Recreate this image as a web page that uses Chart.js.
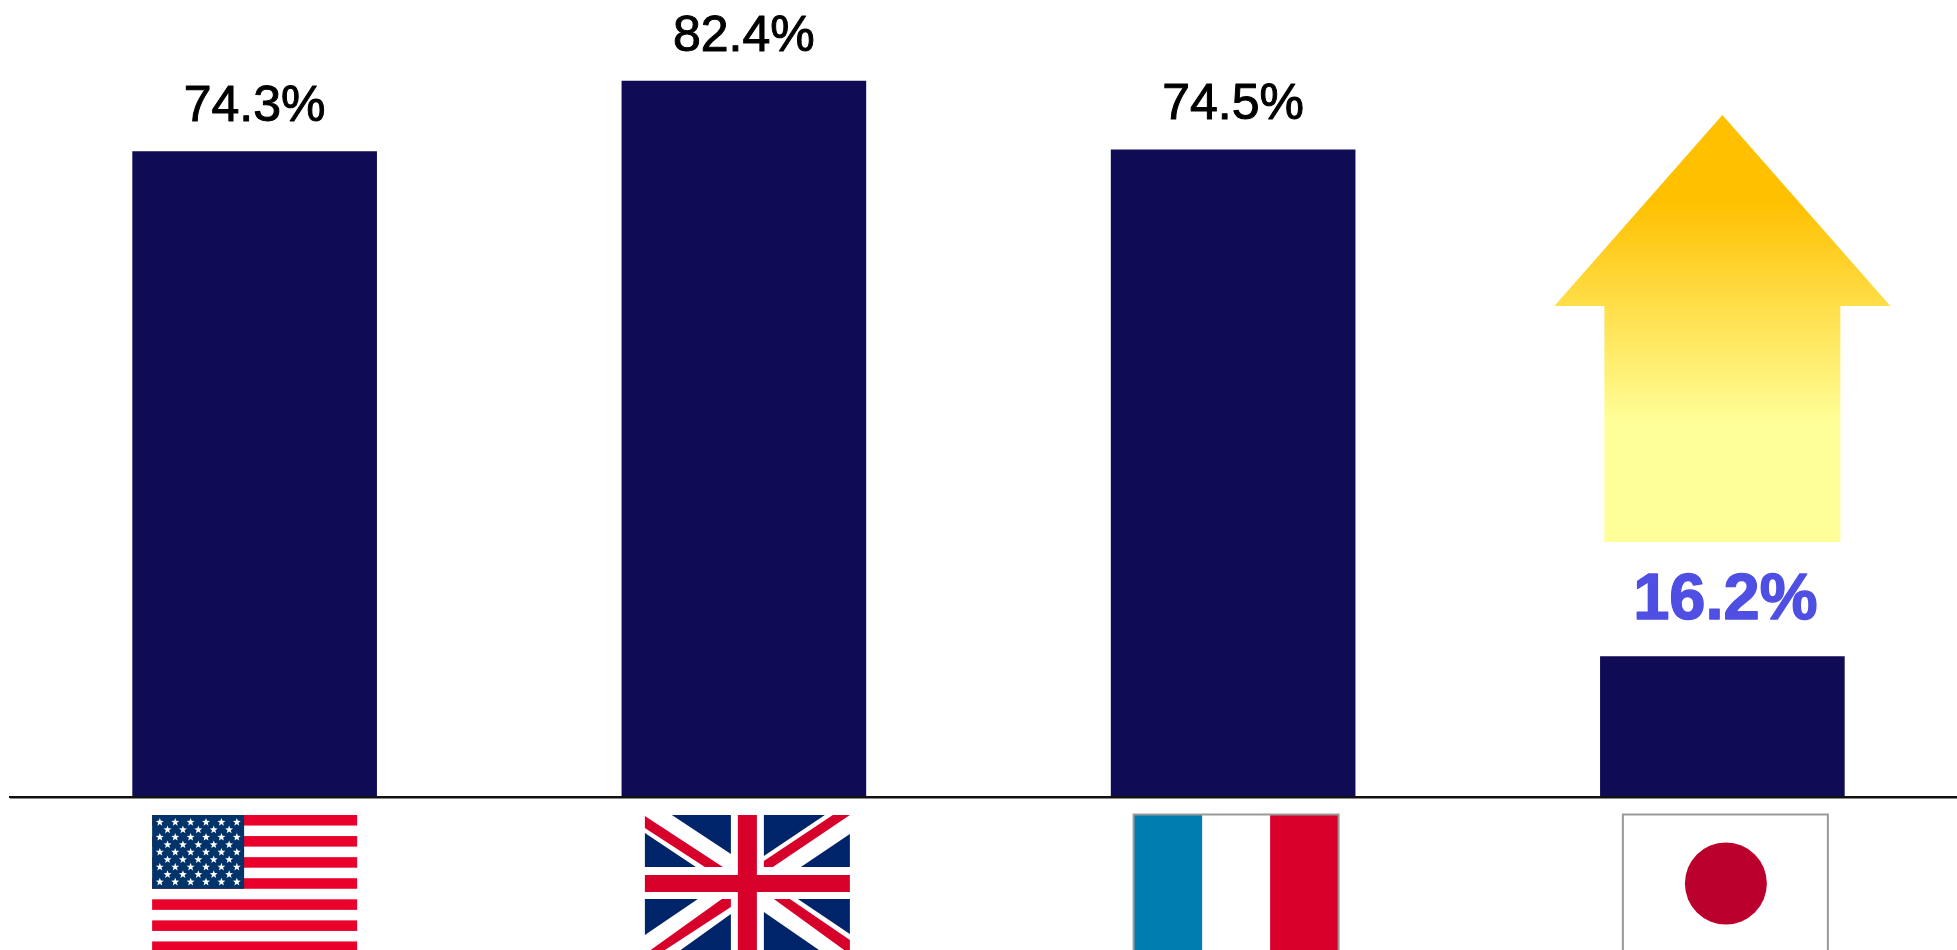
<!DOCTYPE html>
<html>
<head>
<meta charset="utf-8">
<title>Share by country</title>
<script src="https://cdn.jsdelivr.net/npm/chart.js@4/dist/chart.umd.min.js"></script>
<style>
    html, body { margin: 0; padding: 0; background: #ffffff; overflow: hidden; }
    #wrap { width: 1957px; height: 950px; overflow: hidden; }
    canvas { display: block; }
</style>
</head>
<body>
<div id="wrap"><canvas id="bar-chart" width="1967" height="950"></canvas></div>
<script>
// Chart data
const countries = ["USA", "UK", "France", "Japan"];
const shares = [74.3, 82.4, 74.5, 16.2];

const barColor = "#0f0b55";
const labelColor = "#000000";
const highlightColor = "#4f4fe3";

// Flags hang below the axis line
const flagTop = 815;
const flagWidth = 205;
const flagHeight = 137;

function polygon(ctx, x, y, points, color) {
    ctx.fillStyle = color;
    ctx.beginPath();
    points.forEach(function (p, i) {
        if (i === 0) ctx.moveTo(x + p[0], y + p[1]);
        else ctx.lineTo(x + p[0], y + p[1]);
    });
    ctx.closePath();
    ctx.fill();
}

function drawStar(ctx, cx, cy, r) {
    ctx.beginPath();
    for (let i = 0; i < 10; i++) {
        const radius = i % 2 === 0 ? r : r * 0.42;
        const angle = -Math.PI / 2 + i * Math.PI / 5;
        const px = cx + radius * Math.cos(angle);
        const py = cy + radius * Math.sin(angle);
        if (i === 0) ctx.moveTo(px, py);
        else ctx.lineTo(px, py);
    }
    ctx.closePath();
    ctx.fill();
}

function drawUSA(ctx, x, y) {
    const stripe = flagHeight / 13;
    ctx.fillStyle = "#e9002b";
    for (let i = 0; i < 13; i += 2) {
        ctx.fillRect(x, y + i * stripe, flagWidth, stripe);
    }
    ctx.fillStyle = "#00336a";
    ctx.fillRect(x, y, 92, stripe * 7);
    ctx.fillStyle = "#ffffff";
    for (let row = 0; row < 9; row++) {
        const count = row % 2 === 0 ? 6 : 5;
        const shift = row % 2 === 0 ? 0 : 7.7;
        for (let col = 0; col < count; col++) {
            drawStar(ctx, x + 7.7 + shift + col * 15.4, y + 7.3 + row * 7.46, 4.2);
        }
    }
}

function drawUK(ctx, x, y) {
    const navy = "#00246a";
    const red = "#d7002b";
    // Blue triangles, the gaps between them are the white of the flag
    polygon(ctx, x, y, [[27, 0], [86, 0], [86, 39]], navy);
    polygon(ctx, x, y, [[0, 18], [51, 52], [0, 52]], navy);
    polygon(ctx, x, y, [[119, 0], [180, 0], [119, 41]], navy);
    polygon(ctx, x, y, [[205, 19], [205, 52], [156, 52]], navy);
    polygon(ctx, x, y, [[0, 84], [53, 84], [0, 120]], navy);
    polygon(ctx, x, y, [[86, 99], [86, 137], [33, 137]], navy);
    polygon(ctx, x, y, [[153, 84], [205, 84], [205, 119]], navy);
    polygon(ctx, x, y, [[119, 97], [177, 137], [119, 137]], navy);
    // Red diagonals
    polygon(ctx, x, y, [[0, 1], [78, 52], [60, 52], [0, 13]], red);
    polygon(ctx, x, y, [[188, 0], [205, 0], [128, 52], [119, 52], [119, 46]], red);
    polygon(ctx, x, y, [[86, 84], [86, 92], [17, 137], [3, 137], [77, 84]], red);
    polygon(ctx, x, y, [[129, 84], [145, 84], [205, 125], [205, 137], [202, 137]], red);
    // Red cross
    ctx.fillStyle = red;
    ctx.fillRect(x, y + 60, flagWidth, 17);
    ctx.fillRect(x + 93, y, 19, flagHeight);
}

function drawFrance(ctx, x, y) {
    ctx.fillStyle = "#007db0";
    ctx.fillRect(x, y, 68.5, flagHeight);
    ctx.fillStyle = "#d8002a";
    ctx.fillRect(x + 136.5, y, 68.5, flagHeight);
    ctx.strokeStyle = "#999999";
    ctx.lineWidth = 2;
    ctx.strokeRect(x, y - 0.5, flagWidth, flagHeight + 2);
}

function drawJapan(ctx, x, y) {
    ctx.fillStyle = "#bc002d";
    ctx.beginPath();
    ctx.arc(x + 103, y + 68.5, 41, 0, Math.PI * 2);
    ctx.fill();
    ctx.strokeStyle = "#999999";
    ctx.lineWidth = 2;
    ctx.strokeRect(x, y - 0.5, flagWidth, flagHeight + 2);
}

const flags = [
    { draw: drawUSA, shift: 0 },
    { draw: drawUK, shift: 3.5 },
    { draw: drawFrance, shift: 3 },
    { draw: drawJapan, shift: 3 },
];

// Flags under the axis, value labels on top of the bars and the arrow over Japan
const decorations = {
    id: "decorations",
    afterDraw: function (chart) {
        const ctx = chart.ctx;
        const xScale = chart.scales.x;
        const yScale = chart.scales.y;

        ctx.save();

        // Soft grey edge under the axis line
        ctx.fillStyle = "#8a8a8a";
        ctx.fillRect(xScale.left, yScale.bottom + 1, xScale.width, 1);

        flags.forEach(function (flag, i) {
            const left = xScale.getPixelForValue(i) - flagWidth / 2 + flag.shift;
            flag.draw(ctx, left, flagTop);
        });

        // The labels are thickened a little with a stroke in the same colour
        ctx.textAlign = "center";
        ctx.textBaseline = "alphabetic";
        ctx.lineJoin = "round";
        shares.forEach(function (value, i) {
            const cx = xScale.getPixelForValue(i);
            const top = yScale.getPixelForValue(value);
            const text = value.toFixed(1) + "%";
            if (i === shares.length - 1) {
                ctx.font = "bold 65px 'Liberation Sans'";
                ctx.fillStyle = highlightColor;
                ctx.strokeStyle = highlightColor;
                ctx.lineWidth = 1.5;
                ctx.fillText(text, cx + 3, top - 37);
                ctx.strokeText(text, cx + 3, top - 37);
            } else {
                ctx.font = "50px 'Liberation Sans'";
                ctx.fillStyle = labelColor;
                ctx.strokeStyle = labelColor;
                ctx.lineWidth = 1;
                ctx.fillText(text, cx, top - 30);
                ctx.strokeText(text, cx, top - 30);
            }
        });

        // Up arrow
        const ax = xScale.getPixelForValue(shares.length - 1);
        const gradient = ctx.createLinearGradient(0, 115, 0, 542);
        gradient.addColorStop(0.2, "#ffc000");
        gradient.addColorStop(0.72, "#ffff99");
        polygon(ctx, ax, 0, [
            [0, 115], [168, 306], [118, 306], [118, 542],
            [-118, 542], [-118, 306], [-168, 306],
        ], gradient);
        ctx.restore();
    },
};

document.addEventListener("DOMContentLoaded", function () {
    const ctx = document.getElementById("bar-chart").getContext("2d");

    new Chart(ctx, {
        type: "bar",
        data: {
            labels: countries,
            datasets: [{
                data: shares,
                backgroundColor: barColor,
                barPercentage: 0.5,
                categoryPercentage: 1,
            }],
        },
        options: {
            responsive: false,
            animation: false,
            devicePixelRatio: 1,
            layout: {
                padding: { left: 10, right: 0, top: 0, bottom: 153 },
            },
            scales: {
                x: {
                    grid: { display: false, drawTicks: false },
                    border: { display: true, color: "#111111", width: 2, z: 1 },
                    ticks: { display: false },
                },
                y: {
                    display: false,
                    min: 0,
                    max: 91.7,
                },
            },
            plugins: {
                legend: { display: false },
                tooltip: { enabled: false },
            },
        },
        plugins: [decorations],
    });
});
</script>
</body>
</html>
